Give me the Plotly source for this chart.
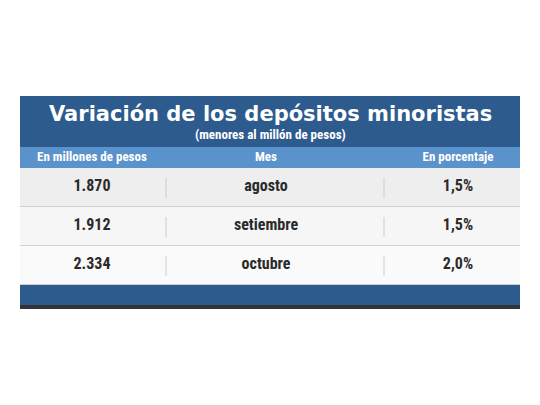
import plotly.graph_objects as go

headers = ["En millones de pesos", "Mes", "En porcentaje"]
amounts = ["1.870", "1.912", "2.334"]
months = ["agosto", "setiembre", "octubre"]
percents = ["1,5%", "1,5%", "2,0%"]
title = "Variación de los depósitos minoristas"
subtitle = "(menores al millón de pesos)"

L, R = 20, 520
col_x = [92, 266, 458]
row_tops = [168, 207, 246]
row_h = 38.5
row_fill = ["#eeeeee", "#f6f6f6", "#fafafa"]
dark = "#2d5b8e"
narrow = "Roboto Condensed, Liberation Sans Narrow, Roboto, sans-serif"

shapes = []
def rect(x0, y0, x1, y1, c):
    shapes.append(dict(type="rect", xref="x", yref="y", x0=x0, x1=x1, y0=y0, y1=y1,
                       fillcolor=c, line=dict(width=0), layer="below"))
rect(L, 96, R, 147, dark)
rect(L, 147, R, 168, "#5a92cb")
for i, t in enumerate(row_tops):
    rect(L, t, R, t + row_h, row_fill[i])
    shapes.append(dict(type="line", xref="x", yref="y", x0=L, x1=R, y0=t + row_h, y1=t + row_h,
                       line=dict(color="#d0d0d0", width=1)))
    for sx in (166, 384):
        shapes.append(dict(type="line", xref="x", yref="y", x0=sx, x1=sx, y0=t + 10, y1=t + 30,
                           line=dict(color="#cccccc", width=1)))
rect(L, 285, R, 305, dark)
rect(L, 305, R, 309, "#333338")

fig = go.Figure()
cols = [amounts, months, percents]
for j, vals in enumerate(cols):
    fig.add_trace(go.Scatter(
        x=[col_x[j]] * len(vals), y=[t + row_h / 2 for t in row_tops],
        text=["<b>" + v + "</b>" for v in vals],
        mode="text", textposition="middle center", hoverinfo="skip",
        textfont=dict(family=narrow, size=16, color="#2a2a2a")))
fig.add_trace(go.Scatter(
    x=col_x, y=[157.5] * 3, text=["<b>" + h + "</b>" for h in headers], mode="text", hoverinfo="skip",
    textfont=dict(family=narrow, size=13, color="white")))

ann = [
    dict(x=270, y=114, text="<b>" + title + "</b>", showarrow=False, xref="x", yref="y",
         font=dict(family="DejaVu Sans, Liberation Sans, sans-serif", size=21, color="white")),
    dict(x=270, y=134, text="<b>" + subtitle + "</b>", showarrow=False, xref="x", yref="y",
         font=dict(family=narrow, size=13, color="white")),
]

fig.update_layout(width=540, height=405, margin=dict(l=0, r=0, t=0, b=0),
                  paper_bgcolor="white", plot_bgcolor="white", showlegend=False,
                  shapes=shapes, annotations=ann,
                  xaxis=dict(range=[8, 548], visible=False, fixedrange=True),
                  yaxis=dict(range=[413, 8], visible=False, fixedrange=True))
fig.write_html("out.html")
